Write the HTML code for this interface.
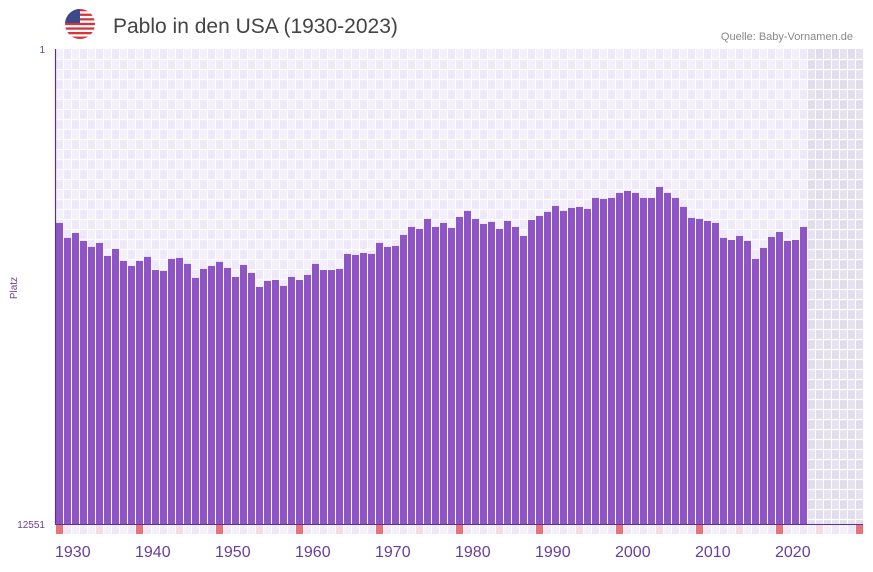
<!DOCTYPE html>
<html><head><meta charset="utf-8"><style>
body{margin:0;background:#fff;width:873px;height:567px;overflow:hidden;font-family:"Liberation Sans",sans-serif}
</style></head><body>
<svg id="chart" width="873" height="567" xmlns="http://www.w3.org/2000/svg">
<g>
<clipPath id="fc"><circle cx="80" cy="24" r="15"/></clipPath>
<g clip-path="url(#fc)">
<rect x="65" y="9" width="30" height="30" fill="#fff"/>
<rect x="65" y="9" width="30" height="2.3" fill="#d8343e"/><rect x="65" y="13.6" width="30" height="2.3" fill="#d8343e"/><rect x="65" y="18.2" width="30" height="2.3" fill="#d8343e"/><rect x="65" y="22.8" width="30" height="2.3" fill="#d8343e"/><rect x="65" y="27.4" width="30" height="2.3" fill="#d8343e"/><rect x="65" y="32" width="30" height="2.3" fill="#d8343e"/><rect x="65" y="36.6" width="30" height="2.4" fill="#d8343e"/>
<rect x="65" y="9" width="15" height="14" fill="#3c4a8c"/>
</g></g>
<text x="113" y="33" font-size="21" fill="#444">Pablo in den USA (1930-2023)</text>
<text x="853" y="40" font-size="11" fill="#888" text-anchor="end">Quelle: Baby-Vornamen.de</text>
<text transform="translate(17,288) rotate(-90)" font-size="10" fill="#6a3d9a" text-anchor="middle">Platz</text>
<g id="plot"></g>
</svg>
<script>
const years=[];for(let y=1930;y<=2023;y++)years.push(y);
const ranks=[4597,4993,4861,5073,5231,5125,5469,5284,5601,5733,5601,5495,5839,5865,5548,5522,5680,6050,5812,5733,5627,5786,6024,5707,5918,6288,6129,6103,6262,6024,6103,5971,
5680,5839,5839,5812,5416,5443,5390,5416,5125,5231,5205,4914,4703,4756,4491,4703,4597,4729,4439,4280,4491,4624,4571,4756,4544,4703,4941,4518,4412,4306,4148,4280,
4201,4174,4227,3937,3963,3937,3804,3752,3804,3937,3937,3646,3804,3937,4174,4465,4491,4544,4597,4993,5046,4941,5073,5548,5258,4967,4835,5073,5046,4703];
const xTicks=[1930,1940,1950,1960,1970,1980,1990,2000,2010,2020];
const yTicks=[1,12551];
const startYear=1930,endYear=2030,minRank=1,maxRank=12551;
const L=55,T=49,B=524,CW=8;
const xs=y=>L+(y-startYear)*CW;
const ys=r=>T+(r-minRank)/(maxRank-minRank)*(B-T);
const NS="http://www.w3.org/2000/svg";
const g=document.getElementById('plot');
function mk(t,a){const e=document.createElementNS(NS,t);for(const k in a)e.setAttribute(k,a[k]);g.appendChild(e);return e;}
const nC=endYear-startYear+1;
for(let i=0;i<nC;i++){
  const fut=startYear+i>2023;
  for(let j=0;j<48;j++){
    const yy=T+j*10;const h=Math.min(10,B-yy);if(h<=0)break;
    const c=fut?((i+j)%2?'#e2dded':'#e6e2ef'):((i+j)%2?'#eee8f8':'#f3effb');
    const r=mk('rect',{x:L+i*CW,y:yy,width:CW,height:h,fill:c});
    
    
  }
}
for(let i=0;i<=nC;i++){const l=mk('line',{x1:L+i*CW+0.5,x2:L+i*CW+0.5,y1:T,y2:B,stroke:'#fff','stroke-width':1});}
for(let yy=T+10.5;yy<B;yy+=10){const l=mk('line',{x1:L,x2:L+nC*CW,y1:yy,y2:yy,stroke:'#fff','stroke-width':1.3});}
years.forEach((y,i)=>{
  const t=ys(ranks[i]);
  const b=mk('rect',{x:xs(y)+1,y:t,width:CW-1,height:B-t,fill:'#8e55c6'});
  
  
});
for(let i=0;i<nC;i++){
  const y=startYear+i;
  const c=y%10===0?'#e8737a':(y%10===5?'#f6dbe4':(i%2?'#eee8f8':'#f3effb'));
  const r=mk('rect',{x:L+i*CW+1,y:B+1,width:CW-1,height:9,fill:c});
  
  
}
let a=mk('line',{x1:L+0.5,x2:L+0.5,y1:T,y2:B,stroke:'#5b3390','stroke-width':1.2});
a=mk('line',{x1:L,x2:L+nC*CW,y1:B+0.5,y2:B+0.5,stroke:'#5b3390','stroke-width':1});
xTicks.forEach(y=>{
  const t=mk('text',{x:xs(y),y:557,'font-size':16,fill:'#6a3d9a'});t.textContent=y;
  
  
});
yTicks.forEach(r=>{
  const t=mk('text',{x:45,y:ys(r)+4,'font-size':10,fill:'#6a3d9a','text-anchor':'end'});t.textContent=r;
  
  
});
</script>
</body></html>
